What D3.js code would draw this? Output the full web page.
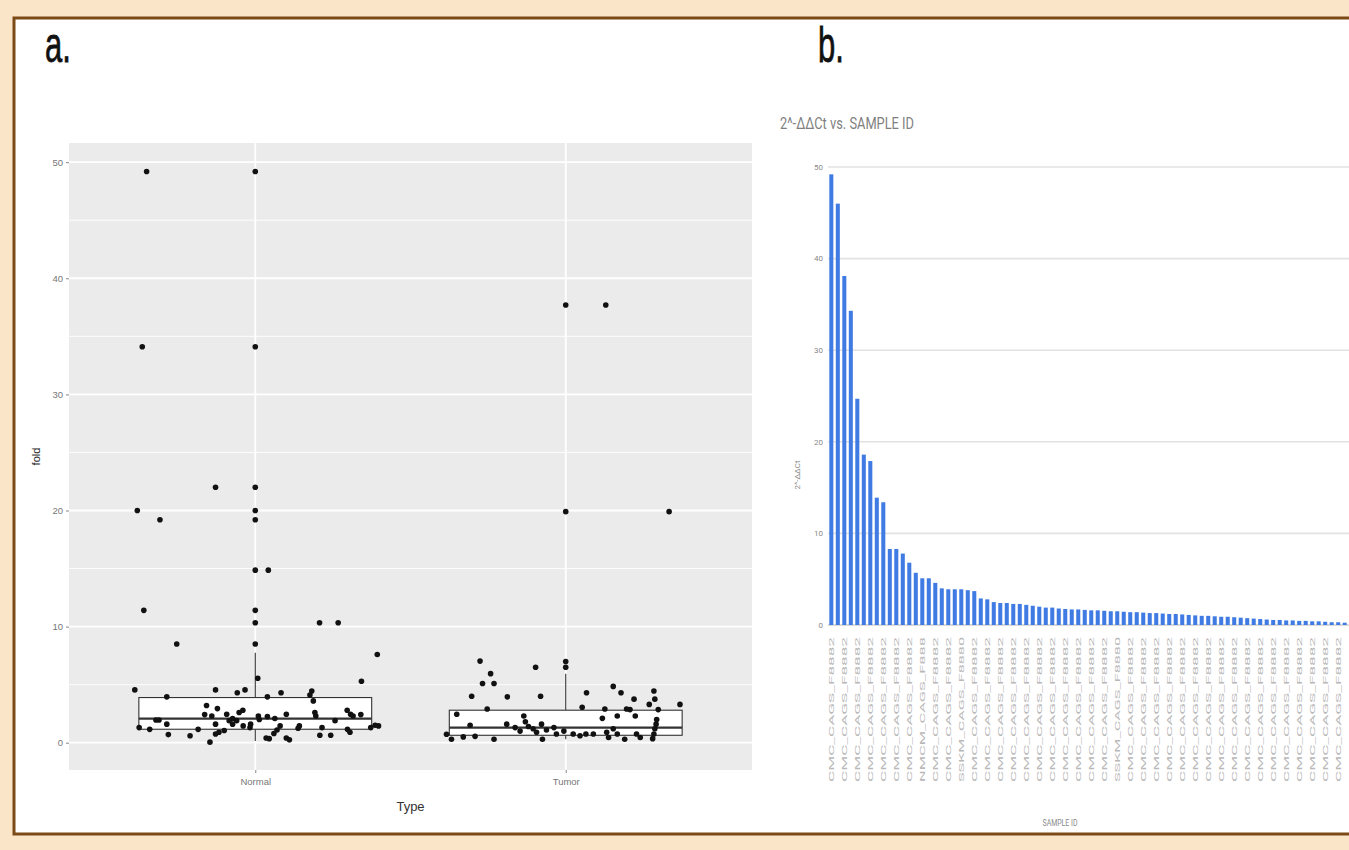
<!DOCTYPE html>
<html>
<head>
<meta charset="utf-8">
<style>
body{margin:0;background:#fbe5c9}
svg{display:block}
</style>
</head>
<body>
<div id="target"></div>
<script src="https://cdn.jsdelivr.net/npm/d3@7.8.5/dist/d3.min.js"></script>
<script>
const width = 1349, height = 850;

// ---- panel a: fold by Type (boxplot + jitter) ----
const types = ["Normal", "Tumor"];
const yTicksA = [0, 10, 20, 30, 40, 50];

// [jitter offset (category units), fold]
const normalPts = [
  [-0.35, 49.2], [-0.364, 34.1], [-0.128, 22.0], [-0.38, 20.0], [-0.307, 19.2],
  [0.042, 14.86], [-0.359, 11.4], [0.207, 10.33], [0.267, 10.33], [-0.253, 8.5],
  [0.393, 7.6], [0.008, 5.55], [0.342, 5.3], [-0.388, 4.55], [-0.128, 4.55],
  [-0.058, 4.3], [-0.033, 4.55], [0.083, 4.3], [0.039, 3.95], [-0.285, 3.95],
  [0.182, 4.45], [0.176, 4.1], [0.187, 3.6], [-0.157, 3.2], [-0.122, 2.94],
  [-0.163, 2.42], [-0.14, 2.3], [-0.092, 2.45], [-0.052, 2.6], [-0.04, 2.8],
  [-0.073, 2.08], [-0.06, 1.9], [-0.039, 1.45], [-0.017, 1.3], [0.01, 2.3],
  [0.013, 2.0], [0.039, 2.25], [0.063, 2.08], [0.1, 2.45], [0.08, 1.45],
  [0.07, 1.1], [0.06, 0.8], [0.035, 0.4], [0.045, 0.35], [0.1, 0.4],
  [0.11, 0.25], [0.142, 1.45], [0.138, 1.25], [0.192, 2.6], [0.195, 2.3],
  [0.208, 0.64], [0.215, 1.3], [0.243, 0.64], [0.257, 1.9], [0.296, 2.8],
  [0.307, 2.45], [0.315, 2.3], [0.297, 1.15], [0.305, 0.9], [0.34, 2.42],
  [0.372, 1.3], [0.386, 1.5], [0.397, 1.45], [-0.374, 1.3], [-0.34, 1.15],
  [-0.32, 1.95], [-0.31, 1.95], [-0.285, 1.6], [-0.28, 0.7], [-0.21, 0.6],
  [-0.184, 1.15], [-0.146, 0.05], [-0.128, 1.6], [-0.117, 0.9], [-0.1, 1.05],
  [-0.128, 0.75], [-0.084, 1.9], [-0.073, 1.6], [-0.015, 1.6]
];
const tumorPts = [
  [0.129, 37.7], [0.333, 19.9], [-0.276, 7.03], [-0.242, 5.95], [-0.268, 5.1],
  [-0.231, 5.1], [-0.303, 4.0], [-0.188, 3.95], [-0.097, 6.5], [-0.081, 4.0],
  [-0.253, 2.9], [-0.351, 2.45], [-0.384, 0.73], [-0.368, 0.3], [-0.33, 0.5],
  [-0.308, 1.5], [-0.292, 0.55], [-0.231, 0.3], [-0.19, 1.6], [-0.163, 1.3],
  [-0.147, 1.0], [-0.135, 2.3], [-0.13, 1.8], [-0.12, 1.4], [-0.105, 1.2],
  [-0.094, 0.9], [-0.078, 1.6], [-0.075, 0.3], [-0.062, 1.1], [-0.038, 1.3],
  [-0.03, 0.75], [-0.006, 1.0], [0.024, 0.75], [0.046, 0.6], [0.065, 0.75],
  [0.089, 0.75], [0.067, 4.3], [0.053, 3.05], [0.126, 2.9], [0.118, 2.1],
  [0.132, 0.9], [0.138, 0.45], [0.153, 4.85], [0.178, 4.3], [0.166, 2.3],
  [0.153, 1.2], [0.166, 0.75], [0.19, 0.3], [0.196, 2.9], [0.207, 2.85],
  [0.22, 3.75], [0.224, 2.3], [0.228, 0.75], [0.24, 0.45], [0.269, 3.3],
  [0.284, 4.45], [0.287, 3.75], [0.298, 2.85], [0.293, 2.0], [0.291, 1.6],
  [0.287, 1.2], [0.284, 0.75], [0.28, 0.35], [0.368, 3.3]
];

const boxLow = [0.15, 0.3];
const boxQ1 = [1.16, 0.64];
const boxMedian = [2.08, 1.3];
const boxQ3 = [3.89, 2.8];
const boxHigh = [7.75, 5.95];
const normalOutliers = [49.2, 34.1, 22.0, 20.0, 19.2, 14.86, 11.4, 10.33, 8.5];
const tumorOutliers = [37.7, 19.9, 7.0, 6.5];

// ---- panel b: 2^-ddCt by sample ----
const sampleIds = [
  "CMC_CAGS_F8882", "CMC_CAGS_F8882", "CMC_CAGS_F8882", "CMC_CAGS_F8882", "CMC_CAGS_F8882",
  "CMC_CAGS_F8882", "CMC_CAGS_F8882", "CMC_CAGS_F8882", "CMC_CAGS_F8882", "CMC_CAGS_F8882",
  "CMC_CAGS_F8882", "CMC_CAGS_F8882", "CMC_CAGS_F8882", "CMC_CAGS_F8882", "NMCM_CAGS_F888",
  "CMC_CAGS_F8882", "CMC_CAGS_F8882", "CMC_CAGS_F8882", "CMC_CAGS_F8882", "CMC_CAGS_F8882",
  "SSKM_CAGS_F8880", "CMC_CAGS_F8882", "CMC_CAGS_F8882", "CMC_CAGS_F8882", "CMC_CAGS_F8882",
  "CMC_CAGS_F8882", "CMC_CAGS_F8882", "CMC_CAGS_F8882", "CMC_CAGS_F8882", "CMC_CAGS_F8882",
  "CMC_CAGS_F8882", "CMC_CAGS_F8882", "CMC_CAGS_F8882", "CMC_CAGS_F8882", "CMC_CAGS_F8882",
  "CMC_CAGS_F8882", "CMC_CAGS_F8882", "CMC_CAGS_F8882", "CMC_CAGS_F8882", "CMC_CAGS_F8882",
  "CMC_CAGS_F8882", "CMC_CAGS_F8882", "CMC_CAGS_F8882", "CMC_CAGS_F8882", "SSKM_CAGS_F8880",
  "CMC_CAGS_F8882", "CMC_CAGS_F8882", "CMC_CAGS_F8882", "CMC_CAGS_F8882", "CMC_CAGS_F8882",
  "CMC_CAGS_F8882", "CMC_CAGS_F8882", "CMC_CAGS_F8882", "CMC_CAGS_F8882", "CMC_CAGS_F8882",
  "CMC_CAGS_F8882", "CMC_CAGS_F8882", "CMC_CAGS_F8882", "CMC_CAGS_F8882", "CMC_CAGS_F8882",
  "CMC_CAGS_F8882", "CMC_CAGS_F8882", "CMC_CAGS_F8882", "CMC_CAGS_F8882", "CMC_CAGS_F8882",
  "CMC_CAGS_F8882", "CMC_CAGS_F8882", "CMC_CAGS_F8882", "CMC_CAGS_F8882", "CMC_CAGS_F8882",
  "CMC_CAGS_F8882", "CMC_CAGS_F8882", "CMC_CAGS_F8882", "CMC_CAGS_F8882", "CMC_CAGS_F8882",
  "CMC_CAGS_F8882", "CMC_CAGS_F8882", "CMC_CAGS_F8882", "CMC_CAGS_F8882", "CMC_CAGS_F8882",
  "CMC_CAGS_F8882"
];
const ddct = [
  49.2, 46.0, 38.1, 34.3, 24.7, 18.6, 17.9, 13.9, 13.4, 8.3,
  8.3, 7.8, 6.8, 5.7, 5.1, 5.1, 4.6, 4.0, 3.9, 3.9,
  3.9, 3.8, 3.7, 2.9, 2.8, 2.5, 2.4, 2.4, 2.3, 2.3,
  2.2, 2.1, 2.0, 1.9, 1.9, 1.8, 1.75, 1.7, 1.7, 1.65,
  1.6, 1.6, 1.55, 1.5, 1.5, 1.45, 1.4, 1.4, 1.35, 1.3,
  1.3, 1.25, 1.2, 1.2, 1.15, 1.1, 1.05, 1.0, 1.0, 0.95,
  0.9, 0.9, 0.85, 0.8, 0.75, 0.7, 0.65, 0.6, 0.55, 0.55,
  0.5, 0.5, 0.45, 0.45, 0.4, 0.4, 0.35, 0.3, 0.3, 0.25,
  0.2
];
const yTicksB = [0, 10, 20, 30, 40, 50];

const svg = d3.select("#target").append("svg")
  .attr("width", width)
  .attr("height", height);

// frame
svg.append("rect")
  .attr("x", 14).attr("y", 18)
  .attr("width", 1400).attr("height", 816)
  .attr("fill", "#fff")
  .attr("stroke", "#7b4a16")
  .attr("stroke-width", 3);

// panel letters (narrow, tall)
[["a.", 45], ["b.", 818]].forEach(([t, x]) => {
  svg.append("text")
    .attr("transform", `translate(${x},62) scale(0.62,1)`)
    .attr("font-family", "Liberation Sans, Arial, sans-serif")
    .attr("font-size", 50)
    .attr("fill", "#111")
    .attr("stroke", "#111")
    .attr("stroke-width", 0.8)
    .text(t);
});

// ================= panel a =================
const A = {left: 69, right: 752, top: 143, bottom: 770};
const xA = d3.scaleLinear().domain([0.4, 2.6]).range([A.left, A.right]);
const yA = d3.scaleLinear().domain([-2.35, 51.65]).range([A.bottom, A.top]);

const ga = svg.append("g");
ga.append("rect")
  .attr("x", A.left).attr("y", A.top)
  .attr("width", A.right - A.left).attr("height", A.bottom - A.top)
  .attr("fill", "#ebebeb");

// minor + major grid
ga.selectAll("line.minor")
  .data([5, 15, 25, 35, 45])
  .join("line")
  .attr("x1", A.left).attr("x2", A.right)
  .attr("y1", d => yA(d)).attr("y2", d => yA(d))
  .attr("stroke", "#fff").attr("stroke-width", 0.9);
ga.selectAll("line.major")
  .data(yTicksA)
  .join("line")
  .attr("x1", A.left).attr("x2", A.right)
  .attr("y1", d => yA(d)).attr("y2", d => yA(d))
  .attr("stroke", "#fff").attr("stroke-width", 1.8);
ga.selectAll("line.vmajor")
  .data([1, 2])
  .join("line")
  .attr("x1", d => xA(d)).attr("x2", d => xA(d))
  .attr("y1", A.top).attr("y2", A.bottom)
  .attr("stroke", "#fff").attr("stroke-width", 1.8);

// boxplots
const boxHalf = 0.375;
types.forEach((t, i) => {
  const c = i + 1;
  const g = ga.append("g");
  g.append("line")
    .attr("x1", xA(c)).attr("x2", xA(c))
    .attr("y1", yA(boxQ3[i])).attr("y2", yA(boxHigh[i]))
    .attr("stroke", "#333").attr("stroke-width", 1.1);
  g.append("line")
    .attr("x1", xA(c)).attr("x2", xA(c))
    .attr("y1", yA(boxQ1[i])).attr("y2", yA(boxLow[i]))
    .attr("stroke", "#333").attr("stroke-width", 1.1);
  g.append("rect")
    .attr("x", xA(c - boxHalf))
    .attr("y", yA(boxQ3[i]))
    .attr("width", xA(c + boxHalf) - xA(c - boxHalf))
    .attr("height", yA(boxQ1[i]) - yA(boxQ3[i]))
    .attr("fill", "#fff").attr("stroke", "#333").attr("stroke-width", 1.1);
  g.append("line")
    .attr("x1", xA(c - boxHalf)).attr("x2", xA(c + boxHalf))
    .attr("y1", yA(boxMedian[i])).attr("y2", yA(boxMedian[i]))
    .attr("stroke", "#333").attr("stroke-width", 2.2);
  const outs = i === 0 ? normalOutliers : tumorOutliers;
  g.selectAll("circle")
    .data(outs)
    .join("circle")
    .attr("cx", xA(c)).attr("cy", d => yA(d))
    .attr("r", 2.8).attr("fill", "#111");
});

// jittered points
[normalPts, tumorPts].forEach((pts, i) => {
  ga.append("g").selectAll("circle")
    .data(pts)
    .join("circle")
    .attr("cx", d => xA(i + 1 + d[0]))
    .attr("cy", d => yA(d[1]))
    .attr("r", 2.8)
    .attr("fill", "#111");
});

// axes
const yAxisA = ga.append("g")
  .attr("transform", `translate(${A.left},0)`)
  .call(d3.axisLeft(yA).tickValues(yTicksA).tickSize(3).tickPadding(3));
const xAxisA = ga.append("g")
  .attr("transform", `translate(0,${A.bottom})`)
  .call(d3.axisBottom(xA).tickValues([1, 2]).tickFormat(d => types[d - 1]).tickSize(3).tickPadding(5));
[yAxisA, xAxisA].forEach(ax => {
  ax.select(".domain").remove();
  ax.selectAll(".tick line").attr("stroke", "#888");
  ax.selectAll(".tick text")
    .attr("fill", "#777")
    .attr("font-family", "Liberation Sans, Arial, sans-serif")
    .attr("font-size", 9.5);
});

ga.append("text")
  .attr("x", (A.left + A.right) / 2).attr("y", 811)
  .attr("text-anchor", "middle")
  .attr("font-family", "Liberation Sans, Arial, sans-serif")
  .attr("font-size", 13)
  .attr("fill", "#333")
  .text("Type");
ga.append("text")
  .attr("transform", `translate(40,${(A.top + A.bottom) / 2}) rotate(-90)`)
  .attr("text-anchor", "middle")
  .attr("font-family", "Liberation Sans, Arial, sans-serif")
  .attr("font-size", 11)
  .attr("fill", "#222")
  .text("fold");

// ================= panel b =================
const B = {left: 828, right: 1349, top: 167, bottom: 625};
const step = 6.5;
const xB = d3.scaleBand()
  .domain(d3.range(ddct.length))
  .range([B.left, B.left + ddct.length * step])
  .paddingInner(0.38)
  .paddingOuter(0.2);
const yB = d3.scaleLinear().domain([0, 50]).range([B.bottom, B.top]);

const gb = svg.append("g");

gb.append("text")
  .attr("x", 780).attr("y", 129)
  .attr("font-family", "Roboto, Liberation Sans, sans-serif")
  .attr("font-size", 17)
  .attr("textLength", 134)
  .attr("lengthAdjust", "spacingAndGlyphs")
  .attr("fill", "#808080")
  .text("2^-ΔΔCt vs. SAMPLE ID");

gb.selectAll("line.grid")
  .data(yTicksB)
  .join("line")
  .attr("x1", B.left).attr("x2", B.right + 10)
  .attr("y1", d => yB(d)).attr("y2", d => yB(d))
  .attr("stroke", d => d === 0 ? "#cfcfcf" : "#e2e2e2")
  .attr("stroke-width", 1.6);

gb.selectAll("text.ytick")
  .data(yTicksB)
  .join("text")
  .attr("x", 823).attr("y", d => yB(d))
  .attr("dy", "0.35em")
  .attr("text-anchor", "end")
  .attr("font-family", "Roboto, Liberation Sans, sans-serif")
  .attr("font-size", 8)
  .attr("fill", "#8a8a8a")
  .text(d => d);

gb.append("text")
  .attr("transform", `translate(800,475) rotate(-90)`)
  .attr("text-anchor", "middle")
  .attr("font-family", "Roboto, Liberation Sans, sans-serif")
  .attr("font-size", 8)
  .attr("fill", "#8a8a8a")
  .text("2^-ΔΔCt");

gb.selectAll("rect.bar")
  .data(ddct)
  .join("rect")
  .attr("x", (d, i) => xB(i))
  .attr("y", d => yB(d))
  .attr("width", xB.bandwidth())
  .attr("height", d => yB(0) - yB(d))
  .attr("fill", "#3f7be3");

// every other sample is labelled; labels that would run off the page edge are skipped
gb.selectAll("text.xlab")
  .data(sampleIds.map((s, i) => [s, i])
    .filter(d => d[1] % 2 === 0 && xB(d[1]) + xB.bandwidth() / 2 < width - 6))
  .join("text")
  .attr("transform", d => `translate(${xB(d[1]) + xB.bandwidth() / 2},637) rotate(-90)`)
  .attr("dy", "0.35em")
  .attr("text-anchor", "end")
  .attr("font-family", "Roboto, Liberation Sans, sans-serif")
  .attr("font-size", 7)
  .attr("textLength", 145)
  .attr("lengthAdjust", "spacingAndGlyphs")
  .attr("fill", "#b8b8b8")
  .text(d => d[0]);

gb.append("text")
  .attr("x", 1060).attr("y", 826)
  .attr("text-anchor", "middle")
  .attr("font-family", "Roboto, Liberation Sans, sans-serif")
  .attr("font-size", 9)
  .attr("textLength", 35)
  .attr("lengthAdjust", "spacingAndGlyphs")
  .attr("fill", "#8a8a8a")
  .text("SAMPLE ID");
</script>
</body>
</html>
